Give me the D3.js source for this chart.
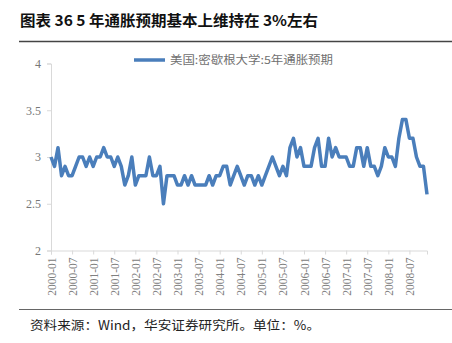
<!DOCTYPE html>
<html><head><meta charset="utf-8">
<script src="https://cdn.jsdelivr.net/npm/d3@7"></script>
<style>
html,body{margin:0;padding:0;background:#fff;}
svg{display:block;}
</style></head>
<body>
<svg id="c" width="452" height="343"></svg>
<script>
const titleText = "图表 36 5 年通胀预期基本上维持在 3%左右";
const sourceText = "资料来源：Wind，华安证券研究所。单位：%。";
const seriesName = "美国:密歇根大学:5年通胀预期";
const startYear = 2000;
const values = [
3.0,2.9,3.1,2.8,2.9,2.8,2.8,2.9,3.0,3.0,2.9,3.0,
2.9,3.0,3.0,3.1,3.0,3.0,2.9,3.0,2.9,2.7,2.8,3.0,
2.7,2.8,2.8,2.8,3.0,2.8,2.8,2.9,2.5,2.8,2.8,2.8,
2.7,2.7,2.8,2.7,2.8,2.7,2.7,2.7,2.7,2.8,2.7,2.8,
2.8,2.9,2.9,2.7,2.8,2.9,2.8,2.7,2.8,2.8,2.7,2.8,
2.7,2.8,2.9,3.0,2.9,2.8,2.9,2.8,3.1,3.2,3.0,3.1,
2.9,2.9,2.9,3.1,3.2,2.9,2.9,3.2,3.0,3.1,3.0,3.0,
3.0,2.9,2.9,3.1,3.1,2.9,3.1,2.9,2.9,2.8,2.9,3.1,
3.0,3.0,2.9,3.2,3.4,3.4,3.2,3.2,3.0,2.9,2.9,2.6
];
const months = values.map((v,i)=>{
  const y = startYear + Math.floor(i/12), m = i%12 + 1;
  return y + "-" + (m<10?"0":"") + m;
});
const yTicks = [2, 2.5, 3, 3.5, 4];
const yTickLabels = ["2","2.5","3","3.5","4"];

const svg = d3.select("#c");
const L = 51, R = 427, T = 63.5, B = 250.5;

const x = d3.scalePoint().domain(months).range([L, R]);
const y = d3.scaleLinear().domain([2, 4]).range([B, T]);

// title
svg.append("text").attr("x", 20).attr("y", 26)
  .attr("font-family", "'Noto Sans CJK SC', sans-serif").attr("font-weight", 700)
  .attr("font-size", 15).attr("fill", "#111")
  .attr("textLength", 298).attr("lengthAdjust", "spacingAndGlyphs")
  .text(titleText);
svg.append("line").attr("x1", 19).attr("x2", 452).attr("y1", 41.5).attr("y2", 41.5)
  .attr("stroke", "#444").attr("stroke-width", 1.5);

// bottom rule + source
svg.append("line").attr("x1", 19).attr("x2", 452).attr("y1", 309.5).attr("y2", 309.5)
  .attr("stroke", "#666").attr("stroke-width", 1.2);
svg.append("text").attr("x", 30).attr("y", 330)
  .attr("font-family", "'Noto Sans CJK SC', sans-serif")
  .attr("font-size", 12.5).attr("fill", "#222")
  .attr("textLength", 290).attr("lengthAdjust", "spacingAndGlyphs")
  .text(sourceText);

// y axis
const yAxis = d3.axisLeft(y).tickValues(yTicks).tickFormat((d,i)=>yTickLabels[i]).tickSize(4).tickPadding(6);
const gy = svg.append("g").attr("transform", `translate(${L},0)`).call(yAxis);
gy.select(".domain").attr("stroke", "#d9d9d9");
gy.selectAll(".tick line").attr("stroke", "#d9d9d9");
gy.selectAll(".tick text").attr("fill", "#777").attr("font-size", 12)
  .attr("font-family", "'Liberation Serif', 'Times New Roman', serif");

// x axis
const tickMonths = months.filter((m,i)=>i%6===0);
const xAxis = d3.axisBottom(x).tickValues(tickMonths).tickSize(4).tickPadding(4);
const gx = svg.append("g").attr("transform", `translate(0,${B})`).call(xAxis);
gx.select(".domain").attr("stroke", "#d9d9d9");
gx.selectAll(".tick line").attr("stroke", "#d9d9d9");
gx.selectAll(".tick text")
  .attr("fill", "#808080").attr("font-size", 11.5)
  .attr("font-family", "'Liberation Serif', 'Times New Roman', serif")
  .attr("text-anchor", "end")
  .attr("transform", "translate(0,7) rotate(-90)")
  .attr("x", 0).attr("y", 0).attr("dy", "0.35em");

// line
const line = d3.line().x((d,i)=>x(months[i])).y(d=>y(d));
svg.append("path").datum(values)
  .attr("fill", "none").attr("stroke", "#4a7ebb").attr("stroke-width", 3.5)
  .attr("stroke-linejoin", "round").attr("d", line);

// legend
const lg = svg.append("g");
lg.append("line").attr("x1", 134).attr("x2", 165).attr("y1", 60).attr("y2", 60)
  .attr("stroke", "#4a7ebb").attr("stroke-width", 3.5);
lg.append("text").attr("x", 170).attr("y", 64)
  .attr("font-family", "'Noto Sans CJK SC', sans-serif")
  .attr("font-size", 11).attr("fill", "#707070")
  .attr("textLength", 163).attr("lengthAdjust", "spacingAndGlyphs")
  .text(seriesName);
</script>
</body></html>
